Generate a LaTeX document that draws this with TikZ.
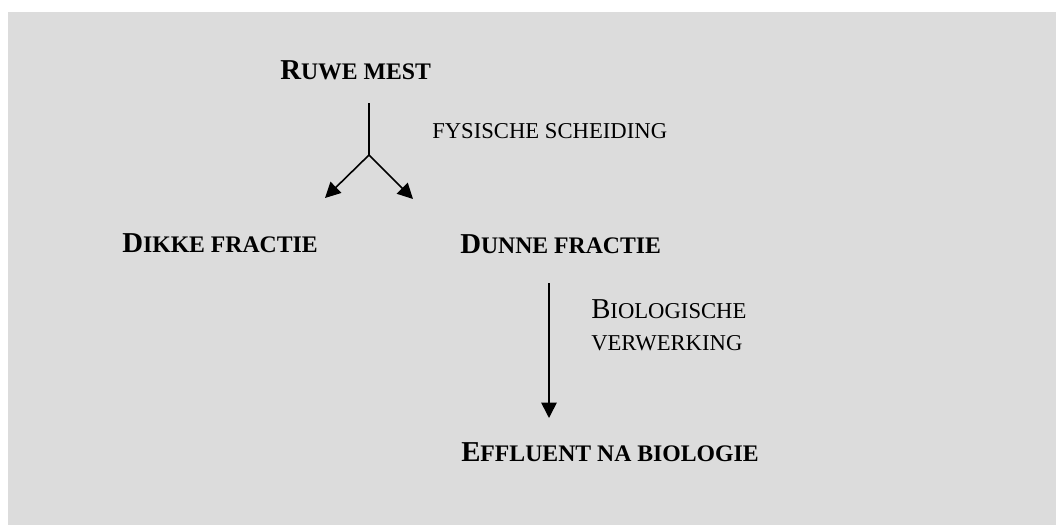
\documentclass[tikz,border=0pt]{standalone}
\usepackage{fontspec}
\setmainfont{Liberation Serif}
\usetikzlibrary{arrows.meta}
\definecolor{bg}{RGB}{220,220,220}
\newcommand{\bigf}{\fontsize{21.6pt}{24pt}\selectfont}
\newcommand{\smf}{\fontsize{17pt}{20pt}\selectfont}
\newcommand{\smbf}{\fontsize{17.8pt}{20pt}\selectfont}
\newcommand{\scx}[2]{{\bigf #1}{\smf #2}}
\newcommand{\scb}[2]{{\bigf #1}{\smbf #2}}
\begin{document}
\begin{tikzpicture}[x=0.75pt,y=-0.75pt,
  lbl/.style={anchor=base west, inner sep=0pt, font=\bfseries},
  note/.style={anchor=base west, inner sep=0pt},
  ln/.style={line width=1.2pt},
  arr/.style={line width=1.2pt, -{Triangle[length=11.5pt,width=11.5pt]}}]
\useasboundingbox (0,0) rectangle (1056,525);
\fill[bg] (8,12) rectangle (1056,525);
% nodes
\node[lbl] (ruwe) at (280,79) {\scb{R}{UWE MEST}};
\node[note] (fys) at (432,138) {\smf FYSISCHE SCHEIDING};
\node[lbl] (dikke) at (122,252) {\scb{D}{IKKE FRACTIE}};
\node[lbl] (dunne) at (460,253) {\scb{D}{UNNE FRACTIE}};
\node[note] (bio1) at (591,318) {\scx{B}{IOLOGISCHE}};
\node[note] (bio2) at (591,350) {\smf VERWERKING};
\node[lbl] (eff) at (461,461) {\scb{E}{FFLUENT NA BIOLOGIE}};
% connector points
\coordinate (s1) at (369,103);
\coordinate (j) at (369,155);
\coordinate (e1) at (325,198);
\coordinate (e2) at (413,199);
\coordinate (s2) at (549,283);
\coordinate (e3) at (549,418);
\draw[ln] (s1) -- (j);
\draw[arr] (j) -- (e1);
\draw[arr] (j) -- (e2);
\draw[arr] (s2) -- (e3);
\end{tikzpicture}
\end{document}
